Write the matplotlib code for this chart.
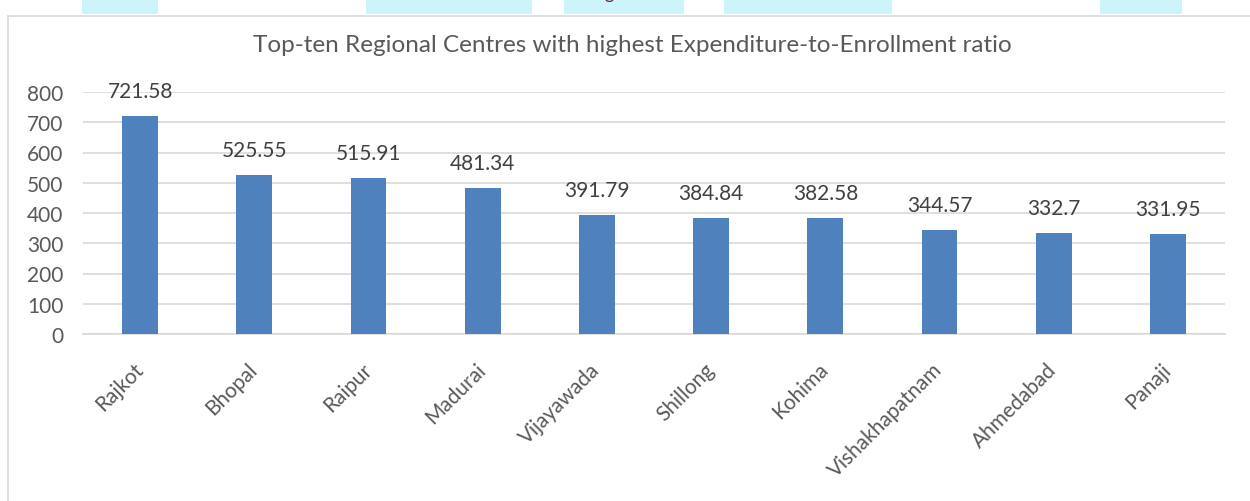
import matplotlib
matplotlib.use('Agg')
import matplotlib.pyplot as plt
from matplotlib.patches import Rectangle
from matplotlib.lines import Line2D

# ---------------------------------------------------------------------------
# Data
# ---------------------------------------------------------------------------
centres = ['Rajkot', 'Bhopal', 'Raipur', 'Madurai', 'Vijayawada',
           'Shillong', 'Kohima', 'Vishakhapatnam', 'Ahmedabad', 'Panaji']
ratios = [721.58, 525.55, 515.91, 481.34, 391.79,
          384.84, 382.58, 344.57, 332.7, 331.95]
ratio_labels = ['721.58', '525.55', '515.91', '481.34', '391.79',
                '384.84', '382.58', '344.57', '332.7', '331.95']
y_ticks = [0, 100, 200, 300, 400, 500, 600, 700, 800]

TITLE = 'Top-ten Regional Centres with highest Expenditure-to-Enrollment ratio'
BAR_COLOR = '#4F81BD'
TEXT_COLOR = '#595959'
GRID_COLOR = '#D9D9D9'

plt.rcParams['font.family'] = ['Lato', 'DejaVu Sans']

W, H = 1250, 502
fig = plt.figure(figsize=(W / 100, H / 100), dpi=100)

# page artefacts above the chart frame (cyan highlight strips + cut-off glyph)
for x0, x1 in [(82, 158), (366, 532), (564, 684), (724, 892), (1100, 1182)]:
    fig.patches.append(Rectangle((x0 / W, 1 - 15 / H), (x1 - x0) / W, 15 / H,
                                 transform=fig.transFigure, color='#CDF4FA',
                                 lw=0, zorder=0))
fig.text(609 / W, 1 + 1 / H, 'g', ha='center', va='baseline',
         fontsize=13, color='#5A2A2A')

# chart frame (left and top edges visible)
fig.lines.append(Line2D([8 / W, 8 / W], [0, 1 - 17 / H], transform=fig.transFigure,
                        color=GRID_COLOR, lw=1.2))
fig.lines.append(Line2D([8 / W, 1], [1 - 17 / H, 1 - 17 / H], transform=fig.transFigure,
                        color=GRID_COLOR, lw=1.2))

# plot area: x 83..1225 px, y 93 (800) .. 335 (0)
ax = fig.add_axes([83 / W, 1 - 335 / H, (1225 - 83) / W, (335 - 93) / H])

x = range(len(centres))
bars = ax.bar(x, ratios, width=0.315, color=BAR_COLOR, zorder=3)

for b, lab in zip(bars, ratio_labels):
    ax.annotate(lab, (b.get_x() + b.get_width() / 2, b.get_height()),
                xytext=(0, 18), textcoords='offset points',
                ha='center', va='center', fontsize=15, color='#404040', zorder=4)

ax.set_xlim(-0.5, len(centres) - 0.5)
ax.set_ylim(0, 800)
ax.set_yticks(y_ticks)
ax.set_yticklabels([str(v) for v in y_ticks], fontsize=15, color=TEXT_COLOR)
ax.yaxis.grid(True, color=GRID_COLOR, lw=1.2, zorder=0)
ax.set_axisbelow(True)

ax.set_xticks(list(x))
ax.set_xticklabels(centres, rotation=45, ha='right', va='center',
                   rotation_mode='anchor', fontsize=15, color=TEXT_COLOR)
ax.tick_params(axis='both', length=0)
ax.tick_params(axis='x', pad=23)
ax.tick_params(axis='y', pad=14)

for side in ['top', 'right', 'left']:
    ax.spines[side].set_visible(False)
ax.spines['bottom'].set_color(GRID_COLOR)
ax.spines['bottom'].set_linewidth(1.2)

fig.text(632 / W, 1 - 45 / H, TITLE, ha='center', va='center',
         fontsize=17.5, color=TEXT_COLOR)

fig.savefig('out.png', dpi=100)
